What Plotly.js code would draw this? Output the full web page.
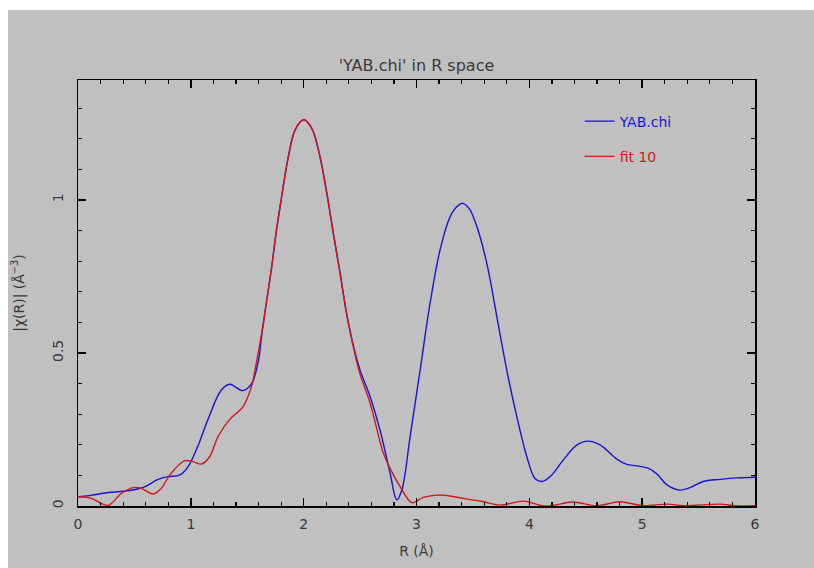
<!DOCTYPE html>
<html>
<head>
<meta charset="utf-8">
<script src="https://cdn.plot.ly/plotly-3.0.1.min.js"></script>
<style>
  html, body { margin: 0; padding: 0; background: #ffffff; }
  #chart { position: absolute; left: 8px; top: 10px; width: 806px; height: 558px; }
</style>
</head>
<body>
<div id="chart"></div>
<script>
// Data
const dataR = [0, 0.1, 0.27, 0.44, 0.58, 0.71, 0.80, 0.90, 0.975, 1.06, 1.15, 1.27, 1.345, 1.46, 1.54, 1.60, 1.63, 1.673, 1.717, 1.755, 1.805, 1.864, 1.924, 2.0, 2.072, 2.145, 2.205, 2.263, 2.323, 2.382, 2.44, 2.5, 2.589, 2.677, 2.766, 2.825, 2.87, 2.943, 3.032, 3.12, 3.209, 3.298, 3.35, 3.41, 3.47, 3.535, 3.623, 3.712, 3.80, 3.889, 3.978, 4.05, 4.11, 4.19, 4.30, 4.42, 4.52, 4.63, 4.775, 4.864, 4.952, 5.056, 5.13, 5.22, 5.33, 5.43, 5.54, 5.69, 5.84, 6.0];
const dataChi = [0.030, 0.034, 0.044, 0.050, 0.061, 0.087, 0.096, 0.101, 0.128, 0.194, 0.281, 0.379, 0.398, 0.377, 0.401, 0.477, 0.564, 0.673, 0.782, 0.891, 1.011, 1.141, 1.229, 1.262, 1.234, 1.141, 1.022, 0.891, 0.760, 0.625, 0.525, 0.444, 0.357, 0.248, 0.107, 0.020, 0.052, 0.226, 0.444, 0.662, 0.837, 0.945, 0.975, 0.989, 0.970, 0.913, 0.793, 0.619, 0.444, 0.292, 0.161, 0.090, 0.080, 0.098, 0.150, 0.199, 0.212, 0.199, 0.153, 0.136, 0.131, 0.123, 0.105, 0.069, 0.052, 0.061, 0.080, 0.087, 0.092, 0.094];

const fitR = [0, 0.118, 0.266, 0.384, 0.488, 0.56, 0.665, 0.739, 0.813, 0.946, 1.02, 1.093, 1.167, 1.241, 1.345, 1.463, 1.537, 1.58, 1.628, 1.673, 1.717, 1.755, 1.805, 1.864, 1.924, 2.0, 2.072, 2.145, 2.205, 2.263, 2.323, 2.382, 2.44, 2.5, 2.589, 2.707, 2.766, 2.855, 2.958, 3.061, 3.209, 3.416, 3.593, 3.741, 3.948, 4.11, 4.2, 4.38, 4.6, 4.8, 5.01, 5.22, 5.37, 5.69, 5.82, 6.0];
const fitChi = [0.030, 0.025, 0.002, 0.041, 0.060, 0.058, 0.039, 0.058, 0.101, 0.148, 0.145, 0.137, 0.161, 0.227, 0.283, 0.325, 0.390, 0.466, 0.564, 0.673, 0.782, 0.891, 1.011, 1.141, 1.229, 1.262, 1.234, 1.141, 1.022, 0.891, 0.760, 0.625, 0.520, 0.430, 0.336, 0.172, 0.123, 0.063, 0.011, 0.028, 0.036, 0.025, 0.014, 0.003, 0.016, 0.001, 0.001, 0.013, 0.001, 0.014, 0.001, 0.006, 0.001, 0.006, 0.001, 0.001];

const seriesNames = ['YAB.chi', 'fit 10'];
const seriesColors = ['#1515d5', '#d51515'];

const font = "'DejaVu Sans', 'Liberation Sans', sans-serif";
const textColor = '#3a3a3a';

const traces = [
  {
    x: dataR, y: dataChi, type: 'scatter', mode: 'lines',
    line: { color: seriesColors[0], width: 1.4, shape: 'spline', smoothing: 1 },
    name: '<span style="color:' + seriesColors[0] + '">' + seriesNames[0] + '</span>',
    legendgroup: 'a'
  },
  {
    x: fitR, y: fitChi, type: 'scatter', mode: 'lines',
    line: { color: seriesColors[1], width: 1.4, shape: 'spline', smoothing: 0.9 },
    name: '<span style="color:' + seriesColors[1] + '">' + seriesNames[1] + '</span>',
    legendgroup: 'b'
  }
];

const axisCommon = {
  showgrid: false, zeroline: false,
  showline: true, linecolor: '#000', linewidth: 1.5,
  mirror: 'ticks', ticks: 'inside', ticklen: 8, tickwidth: 1.5, tickcolor: '#000',
  tickfont: { family: font, size: 14, color: textColor }
};

const layout = {
  width: 806, height: 558,
  paper_bgcolor: '#c0c0c0', plot_bgcolor: '#c0c0c0',
  margin: { l: 70, r: 59, t: 70, b: 62 },
  showlegend: true,
  legend: {
    x: 0.741, y: 0.94, xanchor: 'left', yanchor: 'top',
    bgcolor: 'rgba(0,0,0,0)', borderwidth: 0,
    font: { family: font, size: 14, color: textColor },
    tracegroupgap: 14, traceorder: 'grouped', itemwidth: 30
  },
  title: {
    text: "'YAB.chi' in R space",
    font: { family: font, size: 16, color: textColor },
    x: 0.5, xanchor: 'center', xref: 'paper',
    y: 0.9, yanchor: 'middle', yref: 'container'
  },
  xaxis: Object.assign({}, axisCommon, {
    range: [0, 6], dtick: 1, tick0: 0,
    ticklabelstandoff: 5,
    minor: { dtick: 0.2, ticks: 'inside', ticklen: 4, tickwidth: 1.2, tickcolor: '#000', showgrid: false },
    title: { text: 'R (Å)', standoff: 15, font: { family: font, size: 14, color: textColor } }
  }),
  yaxis: Object.assign({}, axisCommon, {
    range: [0, 1.392], dtick: 0.5, tick0: 0, tickangle: -90,
    ticklabelstandoff: 8,
    minor: { dtick: 0.1, ticks: 'inside', ticklen: 4, tickwidth: 1.2, tickcolor: '#000', showgrid: false },
    title: { text: '|χ(R)| (Å<sup>−3</sup>)', standoff: 22, font: { family: font, size: 14, color: textColor } }
  })
};

Plotly.newPlot('chart', traces, layout, { displayModeBar: false, staticPlot: true });
</script>
</body>
</html>
